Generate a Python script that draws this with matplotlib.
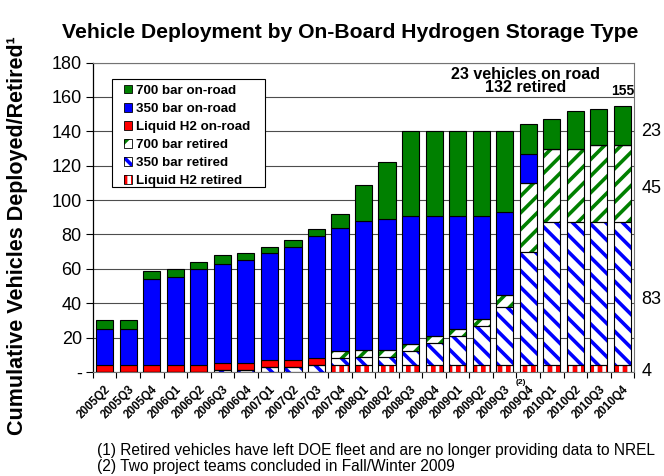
import numpy as np
import matplotlib.pyplot as plt
from matplotlib.patches import Patch, Rectangle
from matplotlib.transforms import blended_transform_factory

plt.rcParams['font.family'] = ['Liberation Sans', 'DejaVu Sans']
plt.rcParams['hatch.linewidth'] = 2.6

quarters = ['2005Q2', '2005Q3', '2005Q4', '2006Q1', '2006Q2', '2006Q3', '2006Q4',
            '2007Q1', '2007Q2', '2007Q3', '2007Q4', '2008Q1', '2008Q2', '2008Q3',
            '2008Q4', '2009Q1', '2009Q2', '2009Q3', '2009Q4', '2010Q1', '2010Q2',
            '2010Q3', '2010Q4']

# segment heights, bottom to top
lh2_retired = [0, 0, 0, 0, 0, 0, 0, 0, 0, 0, 4, 4, 4, 4, 4, 4, 4, 4, 4, 4, 4, 4, 4]
b350_retired = [0, 0, 0, 0, 0, 1, 1, 3, 3, 4, 4, 5, 5, 8, 13, 17, 23, 34, 66, 83, 83, 83, 83]
b700_retired = [0, 0, 0, 0, 0, 0, 0, 0, 0, 0, 4, 4, 4, 4, 4, 4, 4, 7, 40, 43, 43, 45, 45]
lh2_road = [4, 4, 4, 4, 4, 4, 4, 4, 4, 4, 0, 0, 0, 0, 0, 0, 0, 0, 0, 0, 0, 0, 0]
b350_road = [21, 21, 50, 51, 56, 58, 60, 62, 66, 71, 72, 75, 76, 75, 70, 66, 60, 48, 17, 0, 0, 0, 0]
b700_road = [5, 5, 5, 5, 4, 5, 4, 4, 4, 4, 8, 21, 33, 49, 49, 49, 49, 47, 17, 17, 22, 21, 23]

# right side totals for the last quarter
side_labels = ['23', '45', '83', '4']
side_label_y = [140, 107, 42, 0]

green = '#008000'
blue = '#0000ff'
red = '#ff0000'

fig = plt.figure(figsize=(6.64, 4.76), dpi=100)
ax = fig.add_axes([0.140, 0.2185, 0.815, 0.650])

x = np.arange(len(quarters))
width = 0.73
bottom = np.zeros(len(quarters))

# retired (hatched) series: (values, face, hatch colour, hatch)
retired = [(lh2_retired, red, 'white', '||'),
           (b350_retired, 'white', blue, '\\\\'),
           (b700_retired, 'white', green, '//')]
for vals, face, hcol, hatch in retired:
    vals = np.array(vals, dtype=float)
    ax.bar(x, vals, width, bottom=bottom, color=face, edgecolor=hcol,
           linewidth=0, hatch=hatch, zorder=3)
    ax.bar(x, vals, width, bottom=bottom, fill=False, edgecolor='black',
           linewidth=0.8, zorder=4)
    bottom += vals

# on-road (solid) series
for vals, col in [(lh2_road, red), (b350_road, blue), (b700_road, green)]:
    vals = np.array(vals, dtype=float)
    ax.bar(x, vals, width, bottom=bottom, color=col, edgecolor='black',
           linewidth=0.8, zorder=3)
    bottom += vals

ax.set_xlim(-0.5, len(quarters) - 0.5)
ax.set_ylim(0, 180)
ax.set_yticks(np.arange(0, 181, 20))
ax.set_yticklabels(['-'] + [str(v) for v in range(20, 181, 20)], fontsize=13)
ax.tick_params(axis='y', length=5, width=0.8, direction='out', pad=3)

ax.set_xticks(x)
ax.set_xticklabels(quarters, rotation=45, ha='right', rotation_mode='anchor',
                   fontsize=8.3, fontweight='bold')
ax.tick_params(axis='x', which='major', length=0, pad=8)
ax.set_xticks(np.arange(-0.5, len(quarters), 1), minor=True)
ax.tick_params(axis='x', which='minor', length=4, width=0.8, direction='out')

ax.grid(axis='y', color='0.3', linewidth=0.8, zorder=0)
ax.set_axisbelow(True)
for s in ['top', 'right', 'bottom']:
    ax.spines[s].set_color('0.45')
    ax.spines[s].set_linewidth(0.8)
ax.spines['left'].set_color('black')
ax.spines['left'].set_linewidth(0.9)

# legend: frame drawn by hand so the inner padding matches
ax.add_patch(Rectangle((0.0351, 0.598), 0.283, 0.3487, transform=ax.transAxes,
                       facecolor='white', edgecolor='black', linewidth=0.8,
                       zorder=5))

def outline():
    return Patch(facecolor='none', edgecolor='black', linewidth=0.6)

handles = [Patch(facecolor=green, edgecolor='black', linewidth=0.6),
           Patch(facecolor=blue, edgecolor='black', linewidth=0.6),
           Patch(facecolor=red, edgecolor='black', linewidth=0.6),
           (Patch(facecolor='white', edgecolor=green, hatch='//', linewidth=0), outline()),
           (Patch(facecolor='white', edgecolor=blue, hatch='\\\\', linewidth=0), outline()),
           (Patch(facecolor=red, edgecolor='white', hatch='||', linewidth=0), outline())]
labels = ['700 bar on-road', '350 bar on-road', 'Liquid H2 on-road',
          '700 bar retired', '350 bar retired', 'Liquid H2 retired']
leg = ax.legend(handles, labels, loc='upper left', bbox_to_anchor=(0.057, 0.929),
                borderaxespad=0, borderpad=0, prop={'weight': 'bold', 'size': 9.6},
                handlelength=0.65, handleheight=0.65, handletextpad=0.3,
                labelspacing=0.45, frameon=False)
leg.set_zorder(6)

ax.text(17.9, 169.5, '23 vehicles on road\n132 retired', ha='center', va='center',
        fontsize=11.5, fontweight='bold', linespacing=0.85, zorder=6)
ax.text(22, 163.5, '155', ha='center', va='center', fontsize=10, fontweight='bold')
ax.text(17.7, -6.2, '(2)', ha='center', va='center', fontsize=6, fontweight='bold')

tr = blended_transform_factory(ax.transAxes, ax.transData)
for s, yv in zip(side_labels, side_label_y):
    ax.text(1.013, yv, s, transform=tr, ha='left', va='center', fontsize=13)

fig.text(350 / 664, 1 - 33 / 476, 'Vehicle Deployment by On-Board Hydrogen Storage Type',
         ha='center', va='center', fontsize=15.2, fontweight='bold')
fig.text(18 / 664, 1 - 236 / 476, 'Cumulative Vehicles Deployed/Retired\u00b9',
         rotation=90, ha='center', va='center', fontsize=15.5, fontweight='bold')
fig.text(97 / 664, 1 - 451 / 476,
         '(1) Retired vehicles have left DOE fleet and are no longer providing data to NREL',
         ha='left', va='center', fontsize=11.2)
fig.text(97 / 664, 1 - 466 / 476, '(2) Two project teams concluded in Fall/Winter 2009',
         ha='left', va='center', fontsize=11.2)

fig.savefig('out.png', dpi=100)
